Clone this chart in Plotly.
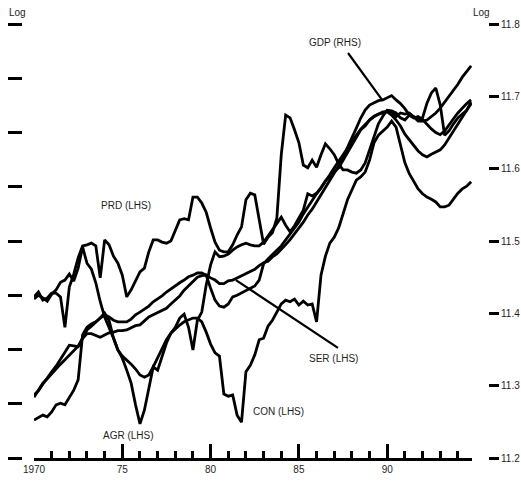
import plotly.graph_objects as go

# Quarterly observations, 1970Q1 - 1994Q4 (decimal years)
quarters = [1970 + q / 4 for q in range(100)]

# Sector output, log levels (left-hand scale)
prd = [4.297, 4.306, 4.291, 4.295, 4.304, 4.304, 4.297, 4.241, 4.315, 4.339,
       4.369, 4.391, 4.393, 4.396, 4.391, 4.332, 4.402, 4.393, 4.372, 4.359,
       4.337, 4.297, 4.310, 4.328, 4.343, 4.350, 4.380, 4.402, 4.402, 4.398,
       4.396, 4.400, 4.420, 4.439, 4.441, 4.439, 4.481, 4.481, 4.470, 4.453,
       4.424, 4.398, 4.383, 4.380, 4.380, 4.393, 4.411, 4.426, 4.476, 4.488,
       4.485, 4.439, 4.394, 4.407, 4.415, 4.442, 4.559, 4.632, 4.627, 4.605,
       4.581, 4.540, 4.535, 4.549, 4.536, 4.559, 4.579, 4.570, 4.559, 4.542,
       4.531, 4.531, 4.527, 4.525, 4.531, 4.544, 4.568, 4.594, 4.616, 4.630,
       4.641, 4.640, 4.636, 4.627, 4.623, 4.632, 4.629, 4.621, 4.621, 4.623,
       4.629, 4.636, 4.645, 4.656, 4.665, 4.678, 4.689, 4.702, 4.713, 4.723]

agr = [4.293, 4.300, 4.295, 4.289, 4.302, 4.310, 4.324, 4.328, 4.339, 4.326,
       4.350, 4.389, 4.359, 4.348, 4.323, 4.288, 4.260, 4.241, 4.221, 4.199,
       4.184, 4.162, 4.138, 4.098, 4.063, 4.088, 4.125, 4.168, 4.162, 4.188,
       4.212, 4.230, 4.241, 4.258, 4.265, 4.241, 4.199, 4.254, 4.269, 4.319,
       4.356, 4.380, 4.371, 4.372, 4.376, 4.383, 4.389, 4.393, 4.396, 4.393,
       4.391, 4.391, 4.398, 4.409, 4.420, 4.433, 4.444, 4.429, 4.417, 4.428,
       4.442, 4.457, 4.487, 4.483, 4.488, 4.498, 4.511, 4.520, 4.527, 4.535,
       4.549, 4.564, 4.577, 4.592, 4.605, 4.612, 4.623, 4.630, 4.634, 4.636,
       4.640, 4.638, 4.629, 4.636, 4.634, 4.636, 4.629, 4.625, 4.627, 4.654,
       4.673, 4.682, 4.651, 4.595, 4.603, 4.616, 4.627, 4.634, 4.641, 4.656]

con = [4.070, 4.074, 4.079, 4.076, 4.085, 4.098, 4.101, 4.098, 4.111, 4.125,
       4.144, 4.227, 4.241, 4.247, 4.251, 4.258, 4.267, 4.254, 4.221, 4.199,
       4.188, 4.181, 4.173, 4.164, 4.153, 4.149, 4.153, 4.168, 4.184, 4.201,
       4.218, 4.230, 4.238, 4.245, 4.251, 4.254, 4.258, 4.258, 4.251, 4.232,
       4.210, 4.194, 4.188, 4.118, 4.114, 4.116, 4.079, 4.066, 4.159, 4.171,
       4.190, 4.218, 4.221, 4.243, 4.254, 4.269, 4.284, 4.291, 4.288, 4.293,
       4.282, 4.289, 4.282, 4.284, 4.251, 4.337, 4.372, 4.396, 4.407, 4.424,
       4.448, 4.476, 4.494, 4.512, 4.518, 4.527, 4.549, 4.581, 4.595, 4.603,
       4.610, 4.621, 4.610, 4.577, 4.544, 4.524, 4.509, 4.496, 4.487, 4.481,
       4.477, 4.472, 4.463, 4.463, 4.466, 4.477, 4.488, 4.496, 4.501, 4.509]

ser = [4.112, 4.125, 4.138, 4.146, 4.155, 4.166, 4.173, 4.181, 4.190, 4.199,
       4.206, 4.221, 4.236, 4.243, 4.251, 4.258, 4.264, 4.260, 4.254, 4.251,
       4.251, 4.251, 4.256, 4.264, 4.269, 4.275, 4.280, 4.288, 4.293, 4.299,
       4.306, 4.312, 4.317, 4.323, 4.328, 4.334, 4.337, 4.341, 4.341, 4.337,
       4.313, 4.291, 4.280, 4.278, 4.284, 4.297, 4.300, 4.304, 4.308, 4.313,
       4.317, 4.328, 4.358, 4.367, 4.376, 4.383, 4.391, 4.402, 4.411, 4.424,
       4.435, 4.450, 4.463, 4.476, 4.487, 4.498, 4.509, 4.522, 4.535, 4.547,
       4.560, 4.573, 4.584, 4.595, 4.606, 4.614, 4.623, 4.629, 4.634, 4.638,
       4.638, 4.632, 4.623, 4.612, 4.597, 4.586, 4.575, 4.566, 4.559, 4.555,
       4.560, 4.564, 4.568, 4.577, 4.590, 4.603, 4.616, 4.630, 4.641, 4.653]

# Real GDP, log level (right-hand scale)
gdp = [11.287, 11.293, 11.302, 11.311, 11.319, 11.327, 11.337, 11.347, 11.356, 11.355,
       11.354, 11.365, 11.372, 11.372, 11.369, 11.367, 11.370, 11.373, 11.374, 11.376,
       11.376, 11.377, 11.380, 11.383, 11.384, 11.390, 11.395, 11.398, 11.401, 11.403,
       11.407, 11.413, 11.419, 11.424, 11.432, 11.438, 11.445, 11.450, 11.452, 11.453,
       11.449, 11.446, 11.441, 11.441, 11.445, 11.446, 11.449, 11.452, 11.456, 11.459,
       11.461, 11.466, 11.470, 11.472, 11.478, 11.482, 11.488, 11.495, 11.502, 11.510,
       11.518, 11.526, 11.536, 11.544, 11.554, 11.564, 11.573, 11.583, 11.593, 11.604,
       11.616, 11.629, 11.641, 11.656, 11.670, 11.681, 11.688, 11.691, 11.694, 11.695,
       11.698, 11.701, 11.695, 11.690, 11.683, 11.674, 11.670, 11.672, 11.668, 11.661,
       11.655, 11.650, 11.647, 11.652, 11.661, 11.669, 11.677, 11.684, 11.690, 11.695]

year_ticks = [1970, 1975, 1980, 1985, 1990]
year_labels = ["1970", "75", "80", "85", "90"]
lhs_ticks = [4.0, 4.1, 4.2, 4.3, 4.4, 4.5, 4.6, 4.7, 4.8]
rhs_ticks = [11.2, 11.3, 11.4, 11.5, 11.6, 11.7, 11.8]

W, H = 521, 482
FONT = "Liberation Sans, Arial, Helvetica, sans-serif"
INK = "#000000"
TXT = "#1e1e1e"

fig = go.Figure()
line_style = dict(color=INK, width=2.8)
for name, vals in [("PRD", prd), ("AGR", agr), ("CON", con), ("SER", ser)]:
    fig.add_trace(go.Scatter(x=quarters, y=vals, mode="lines", name=name,
                             line=line_style, yaxis="y", showlegend=False))
fig.add_trace(go.Scatter(x=quarters, y=gdp, mode="lines", name="GDP",
                         line=line_style, yaxis="y2", showlegend=False))

# Series labels (placed on the left-hand scale)
labels = [
    ("GDP (RHS)", 1987.07, 4.765),
    ("PRD (LHS)", 1975.21, 4.466),
    ("SER (LHS)", 1986.93, 4.184),
    ("CON (LHS)", 1983.82, 4.086),
    ("AGR (LHS)", 1975.35, 4.041),
]
for text, lx, ly in labels:
    fig.add_annotation(x=lx, y=ly, xref="x", yref="y", text=text, showarrow=False,
                       font=dict(family=FONT, size=10, color=TXT),
                       xanchor="center", yanchor="middle")

# Leader lines from labels to their series
leaders = [
    (1987.78, 4.7465, 1989.71, 4.660),
    (1981.43, 4.328, 1987.21, 4.203),
]
for x0, y0, x1, y1 in leaders:
    fig.add_shape(type="line", xref="x", yref="y", x0=x0, y0=y0, x1=x1, y1=y1,
                  line=dict(color=INK, width=2.2))

# "Log" captions above each scale
for lx, text in [(17 / W, "Log"), (481.5 / W, "Log")]:
    fig.add_annotation(x=lx, y=1.027, xref="paper", yref="paper", text=text,
                       showarrow=False, xanchor="center", yanchor="middle",
                       font=dict(family=FONT, size=10, color=TXT))

fig.update_layout(
    width=W, height=H,
    margin=dict(l=0, r=0, t=24, b=24),
    paper_bgcolor="white", plot_bgcolor="white",
    template="none",
    font=dict(family=FONT, size=10, color=TXT),
    xaxis=dict(
        domain=[34 / W, 472 / W], range=[1970, 1994.8],
        anchor="y", showgrid=False, zeroline=False,
        showline=True, linecolor=INK, linewidth=3,
        tickmode="array", tickvals=year_ticks, ticktext=year_labels,
        ticks="inside", ticklen=14, tickwidth=2.5, tickcolor=INK,
        tickfont=dict(family=FONT, size=10, color=TXT),
        minor=dict(ticks="inside", ticklen=7, tickwidth=2.5, tickcolor=INK,
                   dtick=1, tick0=1970, showgrid=False),
    ),
    yaxis=dict(
        domain=[0, 1], range=[4.0, 4.8], anchor="free", position=22 / W,
        side="left", showgrid=False, zeroline=False, showline=False,
        tickmode="array", tickvals=lhs_ticks, showticklabels=False,
        ticks="outside", ticklen=14, tickwidth=3, tickcolor=INK,
    ),
    yaxis2=dict(
        range=[11.2, 11.8], overlaying="y", anchor="free", position=488 / W,
        side="right", showgrid=False, zeroline=False, showline=False,
        tickmode="array", tickvals=rhs_ticks, tickformat=".1f",
        ticks="outside", ticklen=10, tickwidth=3, tickcolor=INK,
        tickfont=dict(family=FONT, size=10, color=TXT),
    ),
)

fig.write_html("out.html")
